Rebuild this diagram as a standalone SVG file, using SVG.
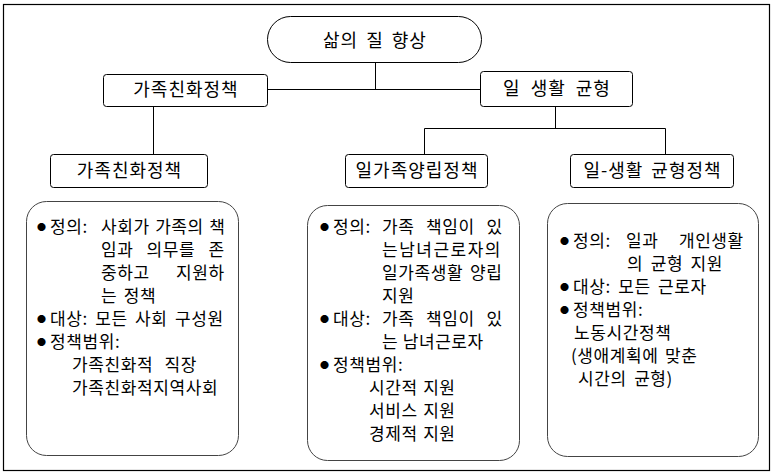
<svg xmlns="http://www.w3.org/2000/svg" width="775" height="476" viewBox="0 0 775 476">
<style>
text{font-family:"Noto Sans CJK KR","Noto Sans",sans-serif;fill:#000}
.h{font-size:18px;letter-spacing:1px;text-anchor:middle}
.b{font-size:17px;letter-spacing:0.6px}
.bul{font-size:9px}
.box{fill:#fff;stroke:#000;stroke-width:1}
.big{fill:#fff;stroke:#444;stroke-width:1}
.ln{stroke:#000;stroke-width:1;fill:none}
</style>
<rect x="3.5" y="4.5" width="766" height="466" fill="#fff" stroke="#000" stroke-width="1.2"/>
<g id="connectors">
<path class="ln" d="M375.5 62V89.5M268 89.5H480M153.5 106V155M555.5 106V128.5M424.5 128.5H665.5M424.5 128.5V155M665.5 128.5V155"/>
</g>
<g id="node-top">
<rect class="box" x="267.5" y="16.5" width="214" height="46" rx="23"/>
<text class="h" x="375" y="47" style="word-spacing:3px">삶의 질 향상</text>
</g>
<g id="node-family-friendly">
<rect class="box" x="103.5" y="74.5" width="164" height="32" rx="3" stroke="#555"/>
<text class="h" x="186" y="96">가족친화정책</text>
</g>
<g id="node-wlb">
<rect class="box" x="480.5" y="71.5" width="152" height="35" rx="3"/>
<text class="h" x="557" y="95" style="word-spacing:5px">일 생활 균형</text>
</g>
<g id="node-ff-policy">
<rect class="box" x="50.5" y="154.5" width="157" height="33" rx="3"/>
<text class="h" x="129.5" y="177">가족친화정책</text>
</g>
<g id="node-wf-policy">
<rect class="box" x="345.5" y="154.5" width="142" height="33" rx="3"/>
<text class="h" x="417" y="177">일가족양립정책</text>
</g>
<g id="node-wlb-policy">
<rect class="box" x="570.5" y="154.5" width="163" height="33" rx="3"/>
<text class="h" x="652.5" y="177" style="word-spacing:3px">일-생활 균형정책</text>
</g>
<g id="detail-ff">
<rect class="big" x="26.5" y="201.5" width="212" height="254" rx="20"/>
<text class="bul" x="37" y="230">●</text>
<text class="b" x="50" y="233">정의:</text>
<text class="b" x="101" y="233" style="word-spacing:1px">사회가 가족의 책</text>
<text class="b" x="101" y="256" style="word-spacing:8.7px">임과 의무를 존</text>
<text class="b" x="101" y="279" style="word-spacing:21.8px">중하고 지원하</text>
<text class="b" x="101" y="302" style="word-spacing:2px">는 정책</text>
<text class="bul" x="37" y="322">●</text>
<text class="b" x="50" y="325" style="word-spacing:3px">대상: 모든 사회 구성원</text>
<text class="bul" x="37" y="345">●</text>
<text class="b" x="50" y="348">정책범위:</text>
<text class="b" x="72" y="371" style="word-spacing:7px">가족친화적 직장</text>
<text class="b" x="72" y="394">가족친화적지역사회</text>
</g>
<g id="detail-wf">
<rect class="big" x="307.5" y="205.5" width="212" height="255" rx="20"/>
<text class="bul" x="320" y="230">●</text>
<text class="b" x="333" y="233">정의:</text>
<text class="b" x="382" y="233" style="word-spacing:7.2px">가족 책임이 있</text>
<text class="b" x="382" y="256" style="letter-spacing:1.5px">는남녀근로자의</text>
<text class="b" x="382" y="279" style="word-spacing:2.5px">일가족생활 양립</text>
<text class="b" x="382" y="302">지원</text>
<text class="bul" x="320" y="322">●</text>
<text class="b" x="333" y="325">대상:</text>
<text class="b" x="382" y="325" style="word-spacing:7.2px">가족 책임이 있</text>
<text class="b" x="382" y="348">는 남녀근로자</text>
<text class="bul" x="320" y="368">●</text>
<text class="b" x="333" y="371">정책범위:</text>
<text class="b" x="369" y="394" style="word-spacing:1px">시간적 지원</text>
<text class="b" x="369" y="417" style="word-spacing:1px">서비스 지원</text>
<text class="b" x="369" y="440" style="word-spacing:1px">경제적 지원</text>
</g>
<g id="detail-wlb">
<rect class="big" x="547.5" y="203.5" width="211" height="253" rx="20"/>
<text class="bul" x="560" y="244">●</text>
<text class="b" x="573" y="247">정의:</text>
<text class="b" x="626" y="247" style="word-spacing:16px">일과 개인생활</text>
<text class="b" x="627" y="270" style="word-spacing:3px">의 균형 지원</text>
<text class="bul" x="560" y="290">●</text>
<text class="b" x="573" y="293" style="word-spacing:3px">대상: 모든 근로자</text>
<text class="bul" x="560" y="313">●</text>
<text class="b" x="573" y="316">정책범위:</text>
<text class="b" x="574" y="339">노동시간정책</text>
<text class="b" x="571" y="362" style="word-spacing:2px">(생애계획에 맞춘</text>
<text class="b" x="578" y="385" style="word-spacing:3px">시간의 균형)</text>
</g>
</svg>
